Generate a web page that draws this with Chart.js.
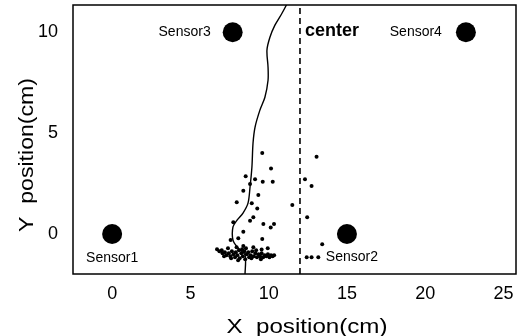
<!DOCTYPE html>
<html>
<head>
<meta charset="utf-8">
<script src="https://cdn.jsdelivr.net/npm/chart.js@4/dist/chart.umd.min.js"></script>
<style>
  html, body { margin: 0; padding: 0; background: #fff; }
  #wrap { width: 523px; height: 336px; }
</style>
</head>
<body>
<div id="wrap"><canvas id="chart" width="523" height="336"></canvas></div>
<script>
// axis ranges and ticks
const xMin = -2.5, xMax = 25.8;
const yMin = -1.98, yMax = 11.35;
const xTicks = [0, 5, 10, 15, 20, 25];
const yTicks = [0, 5, 10];

// sensors
const sensorNames = ['Sensor1', 'Sensor2', 'Sensor3', 'Sensor4'];
const sensorX = [0, 15, 7.7, 22.6];
const sensorY = [0, 0, 10, 10];

// center line
const centerX = 12;
const centerLabel = 'center';

// trajectory (solid line)
const pathX = [11.2, 10.85, 10.4, 10.08, 9.89, 9.96, 9.96, 9.76, 9.44, 9.13, 9.0, 8.93, 8.81, 8.68, 8.36, 7.98, 7.72, 7.72, 8.04, 8.49, 8.49];
const pathY = [11.45, 10.94, 10.35, 9.75, 9.11, 8.27, 7.62, 6.78, 6.14, 5.3, 4.5, 3.32, 2.33, 1.53, 1.04, 0.69, 0.35, -0.3, -0.69, -1.04, -2.0];

// scattered detections
const dotX = [9.59, 13.06, 10.15, 8.53, 9.13, 9.62, 10.26, 12.32, 8.81, 12.74, 8.38, 9.34, 7.96, 8.92, 9.27, 11.51, 12.46, 9.02, 8.81, 7.74, 9.66, 10.34, 10.13, 8.38, 8.06, 7.57, 9.59, 13.42, 8.38, 9.02, 9.55, 9.94, 12.43, 12.74, 13.17,
  6.7, 6.85, 7.0, 7.05, 7.2, 7.3, 7.45, 7.55, 7.65, 7.75, 7.85, 7.9, 8.0, 8.1, 8.15, 8.25, 8.35, 8.45, 8.5, 8.6, 8.7, 8.75, 8.85, 8.95, 9.05, 9.15, 9.25, 9.35, 9.45, 9.55, 9.65, 9.75, 9.85, 9.95, 10.05, 10.15, 10.25, 10.35, 7.4, 7.95, 8.3, 8.9, 9.5, 7.15, 7.6, 8.05, 8.55, 9.2];
const dotY = [4.02, 3.83, 3.25, 2.87, 2.71, 2.59, 2.59, 2.71, 2.48, 2.38, 2.14, 1.93, 1.57, 1.52, 1.27, 1.44, 0.83, 0.83, 0.66, 0.58, 0.5, 0.5, 0.33, 0.11, -0.21, -0.3, -0.25, -0.5, -0.59, -0.66, -0.76, -0.71, -1.15, -1.15, -1.15,
  -0.75, -0.85, -0.8, -0.95, -0.9, -1.05, -0.95, -1.1, -0.85, -1.0, -1.15, -0.9, -1.05, -0.8, -1.2, -0.95, -1.1, -0.85, -1.25, -1.0, -0.9, -1.15, -1.05, -0.85, -1.1, -0.95, -1.15, -1.0, -1.1, -0.95, -1.15, -1.05, -1.1, -1.0, -1.15, -1.05, -1.1, -1.05, -0.7, -0.65, -0.75, -1.2, -1.25, -1.1, -1.2, -1.3, -0.7, -0.8];

const FONT = '"Liberation Sans", Arial, Helvetica, sans-serif';

const zip = (xs, ys) => xs.map((x, i) => ({ x: x, y: ys[i] }));

// frame, labels and axis titles
const decorations = {
  id: 'decorations',
  afterDraw(chart) {
    const ctx = chart.ctx;
    const a = chart.chartArea;
    const sx = chart.scales.x, sy = chart.scales.y;
    ctx.save();
    ctx.strokeStyle = '#000';
    ctx.lineWidth = 1.5;
    ctx.strokeRect(a.left, a.top, a.right - a.left, a.bottom - a.top);

    ctx.fillStyle = '#000';
    ctx.font = '14px ' + FONT;
    ctx.textBaseline = 'middle';
    // label offsets relative to each sensor
    const offs = [[0, 24, 'center'], [5, 23, 'center'], [-22, 0, 'right'], [-24, 0, 'right']];
    sensorNames.forEach((name, i) => {
      ctx.textAlign = offs[i][2];
      ctx.fillText(name, sx.getPixelForValue(sensorX[i]) + offs[i][0], sy.getPixelForValue(sensorY[i]) + offs[i][1]);
    });

    ctx.font = 'bold 18px ' + FONT;
    ctx.textAlign = 'left';
    ctx.fillText(centerLabel, sx.getPixelForValue(centerX) + 5, sy.getPixelForValue(10) - 1);

    // X title
    ctx.font = '21px ' + FONT;
    ctx.textBaseline = 'alphabetic';
    ctx.textAlign = 'center';
    ctx.save();
    ctx.translate(307, 333);
    ctx.scale(1.15, 1);
    ctx.fillText('X  position(cm)', 0, 0);
    ctx.restore();

    // Y title
    ctx.save();
    ctx.translate(33, 155);
    ctx.rotate(-Math.PI / 2);
    ctx.scale(1.1, 1);
    ctx.fillText('Y  position(cm)', 0, 0);
    ctx.restore();
    ctx.restore();
  }
};

new Chart(document.getElementById('chart'), {
  type: 'scatter',
  data: {
    datasets: [
      {
        label: 'center',
        data: [{ x: centerX, y: yMin }, { x: centerX, y: yMax }],
        showLine: true,
        borderColor: '#000',
        borderWidth: 1.6,
        borderDash: [6, 4],
        pointRadius: 0
      },
      {
        label: 'path',
        data: zip(pathX, pathY),
        showLine: true,
        borderColor: '#000',
        borderWidth: 1.4,
        pointRadius: 0,
        tension: 0.3
      },
      {
        label: 'dots',
        data: zip(dotX, dotY),
        backgroundColor: '#000',
        borderColor: '#000',
        borderWidth: 0,
        pointRadius: 2
      },
      {
        label: 'sensors',
        data: zip(sensorX, sensorY),
        backgroundColor: '#000',
        borderColor: '#000',
        borderWidth: 0,
        pointRadius: 10
      }
    ]
  },
  options: {
    responsive: false,
    animation: false,
    layout: { autoPadding: false, padding: { top: 5, right: 7, left: 0, bottom: 0 } },
    plugins: {
      legend: { display: false },
      tooltip: { enabled: false }
    },
    scales: {
      x: {
        type: 'linear',
        min: xMin,
        max: xMax,
        grid: { display: false, drawTicks: false },
        border: { display: false },
        afterBuildTicks: s => { s.ticks = xTicks.map(v => ({ value: v })); },
        afterFit: s => { s.height = 62; s.paddingLeft = 0; s.paddingRight = 0; },
        ticks: {
          color: '#000',
          padding: 9,
          maxRotation: 0,
          font: { family: FONT, size: 18 }
        }
      },
      y: {
        type: 'linear',
        min: yMin,
        max: yMax,
        grid: { display: false, drawTicks: false },
        border: { display: false },
        afterBuildTicks: s => { s.ticks = yTicks.map(v => ({ value: v })); },
        afterFit: s => { s.width = 73; s.paddingTop = 0; s.paddingBottom = 0; },
        ticks: {
          color: '#000',
          padding: 15,
          font: { family: FONT, size: 18 }
        }
      }
    }
  },
  plugins: [decorations]
});
</script>
</body>
</html>
